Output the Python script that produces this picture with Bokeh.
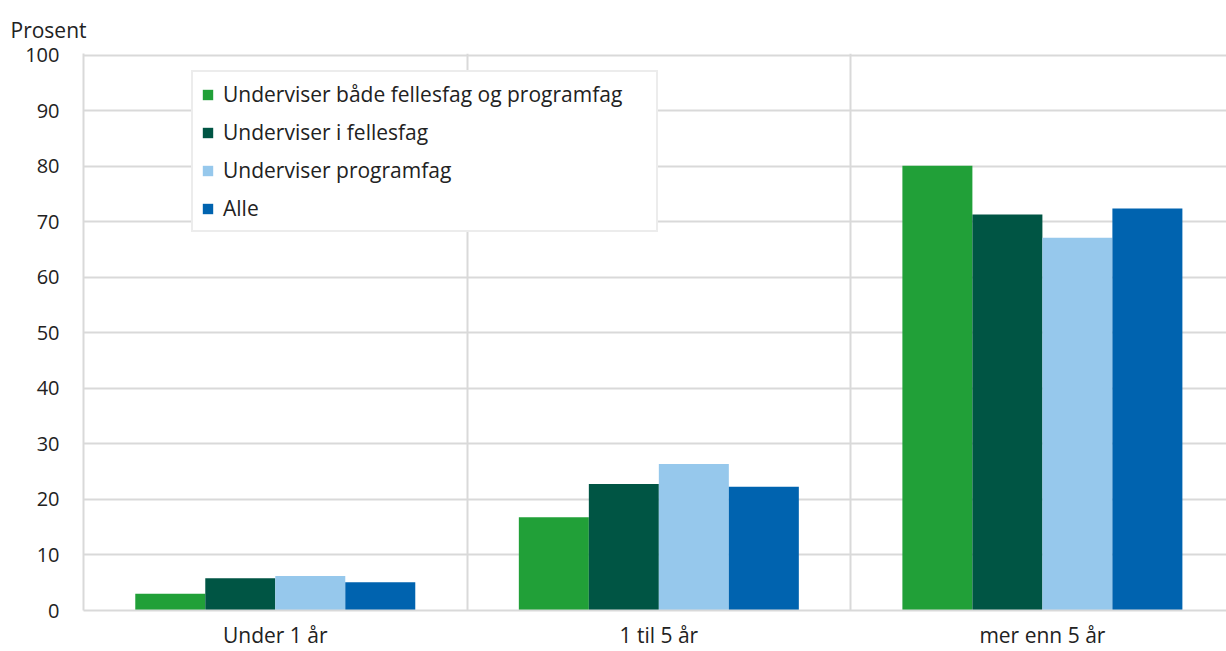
from bokeh.plotting import figure
from bokeh.models import Range1d, FixedTicker, Legend, LegendItem, ColumnDataSource
from bokeh.embed import file_html
from bokeh.resources import INLINE

categories = ["Under 1 år", "1 til 5 år", "mer enn 5 år"]
series_names = ["Underviser både fellesfag og programfag", "Underviser i fellesfag",
                "Underviser programfag", "Alle"]
values_begge = [3.0, 16.8, 80.1]
values_fellesfag = [5.8, 22.8, 71.3]
values_programfag = [6.2, 26.4, 67.1]
values_alle = [5.1, 22.3, 72.4]
colors = ["#21A038", "#005544", "#96C8EC", "#0063AF"]
y_ticks = [0, 10, 20, 30, 40, 50, 60, 70, 80, 90, 100]

FONT = "Open Sans"
GRID = "#d9d9d9"
TXT = "#222222"

p = figure(width=1226, height=651, output_backend="svg", toolbar_location=None,
           x_range=Range1d(0, 2.98), y_range=Range1d(0, 100.3),
           min_border_left=83, min_border_right=0, min_border_top=53, min_border_bottom=41)
p.outline_line_color = None
p.background_fill_color = "white"
p.border_fill_color = "white"

series = [values_begge, values_fellesfag, values_programfag, values_alle]
bw = 0.1825
offsets = [-1.5, -0.5, 0.5, 1.5]
renderers = []
for vals, off, col in zip(series, offsets, colors):
    src = ColumnDataSource(dict(x=[i + 0.5 + off * bw for i in range(len(categories))], top=vals))
    r = p.vbar(x="x", top="top", bottom=0, width=bw, source=src, fill_color=col, line_color=None)
    renderers.append(r)

# axes
p.yaxis.ticker = FixedTicker(ticks=y_ticks)
p.yaxis.axis_line_color = GRID
p.yaxis.axis_line_width = 2
p.yaxis.major_tick_line_color = None
p.yaxis.minor_tick_line_color = None
p.yaxis.major_tick_out = 0
p.yaxis.major_tick_in = 0
p.yaxis.minor_tick_out = 0
p.yaxis.major_label_text_font = FONT
p.yaxis.major_label_text_font_size = "20px"
p.yaxis.major_label_text_color = TXT
p.yaxis.major_label_standoff = 24

p.xaxis.ticker = FixedTicker(ticks=[i + 0.5 for i in range(len(categories))])
p.xaxis.major_label_overrides = {i + 0.5: c for i, c in enumerate(categories)}
p.xaxis.axis_line_color = GRID
p.xaxis.axis_line_width = 2
p.xaxis.major_tick_line_color = None
p.xaxis.minor_tick_line_color = None
p.xaxis.major_tick_out = 0
p.xaxis.major_tick_in = 0
p.xaxis.minor_tick_out = 0
p.xaxis.major_label_text_font = FONT
p.xaxis.major_label_text_font_size = "21px"
p.xaxis.major_label_text_color = TXT
p.xaxis.major_label_standoff = 10

p.ygrid.ticker = FixedTicker(ticks=y_ticks)
p.ygrid.grid_line_color = GRID
p.ygrid.grid_line_width = 2
p.xgrid.ticker = FixedTicker(ticks=[1, 2, 3])
p.xgrid.grid_line_color = GRID
p.xgrid.grid_line_width = 2

p.title.text = "Prosent"
p.title.text_font = FONT
p.title.text_font_size = "21px"
p.title.text_font_style = "normal"
p.title.text_color = TXT
p.title.align = "left"
p.title.offset = -73
p.title.standoff = 20

legend = Legend(items=[LegendItem(label=n, renderers=[r]) for n, r in zip(series_names, renderers)],
                location=(108, 378))
legend.label_text_font = FONT
legend.label_text_font_size = "21px"
legend.label_text_color = TXT
legend.glyph_width = 13
legend.glyph_height = 13
legend.label_height = 20
legend.label_width = 425
legend.label_standoff = 9
legend.spacing = 10
legend.padding = 8
legend.margin = 0
legend.border_line_color = GRID
legend.border_line_width = 2
legend.background_fill_alpha = 1.0
p.add_layout(legend, "center")

open("out.html", "w").write(file_html(p, INLINE))
